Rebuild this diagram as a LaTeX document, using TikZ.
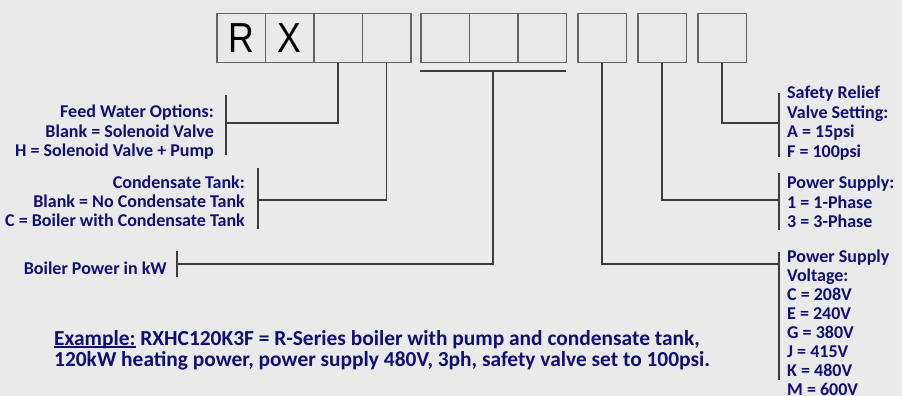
\documentclass[tikz,border=0pt]{standalone}
\usepackage{fontspec}
\setmainfont{Carlito}
\newfontfamily\arialfont{Liberation Sans}
\definecolor{bg}{RGB}{234,234,234}
\definecolor{navytext}{RGB}{14,14,120}
\definecolor{boxgray}{RGB}{100,100,100}
\definecolor{linegray}{RGB}{60,60,60}
\newcommand\exunder[1]{\setbox0\hbox{#1}\rlap{\rule[-2.6pt]{\wd0}{1.3pt}}\box0\relax}
\begin{document}
\begin{tikzpicture}[x=1pt,y=-1pt,
  codebox/.style={draw=boxgray, line width=1.5pt, minimum width=48.5pt, minimum height=49pt, inner sep=0pt, anchor=north west},
  bigletter/.style={font=\arialfont\fontsize{42}{42}\selectfont, text=black},
  lbl/.style={text=navytext, font=\bfseries\fontsize{18}{19.5}\selectfont, inner sep=0pt},
  exlbl/.style={text=navytext, font=\bfseries\fontsize{21.4}{22}\selectfont, inner sep=0pt, anchor=base west},
  conn/.style={draw=linegray, line width=1.3pt},
  bracket/.style={draw=linegray, line width=1.3pt}]
\useasboundingbox (0,0) rectangle (902,396);
\fill[bg] (0,0) rectangle (902,396);

% code boxes
\node[codebox] (b1) at (216,13) {};
\node[codebox] (b2) at (264.5,13) {};
\node[codebox] (b3) at (313,13) {};
\node[codebox] (b4) at (361.5,13) {};
\node[codebox] (b5) at (420,13) {};
\node[codebox] (b6) at (468.5,13) {};
\node[codebox] (b7) at (517,13) {};
\node[codebox] (b8) at (577,13) {};
\node[codebox] (b9) at (637,13) {};
\node[codebox] (b10) at (697,13) {};
\node[bigletter] (lr) at (b1.center) {\scalebox{0.85}[1]{R}};
\node[bigletter] (lx) at (b2.center) {\scalebox{0.85}[1]{X}};

% underline of power group
\coordinate (gl) at (420,71);
\coordinate (gr) at (565.5,71);
\coordinate (gm) at (493,71);
\draw[conn] (gl) -- (gr);

% left labels
\foreach \t [count=\i] in {Feed Water Options:, Blank = Solenoid Valve, H = Solenoid Valve + Pump}
  \node[lbl, anchor=base east] (fw\i) at (214,{117.5+19.5*(\i-1)}) {\t};
\foreach \t [count=\i] in {Condensate Tank:, Blank = No Condensate Tank, C = Boiler with Condensate Tank}
  \node[lbl, anchor=base east] (ct\i) at (245,{188.5+19*(\i-1)}) {\t};
\node[lbl, anchor=base east] (bp) at (167,274.5) {Boiler Power in kW};

% right labels
\foreach \t [count=\i] in {Safety Relief, Valve Setting:, A = 15psi, F = 100psi}
  \node[lbl, anchor=base west] (sr\i) at (787,{98.5+19.5*(\i-1)}) {\t};
\foreach \t [count=\i] in {Power Supply:, 1 = 1-Phase, 3 = 3-Phase}
  \node[lbl, anchor=base west] (ps\i) at (787,{188.5+19.5*(\i-1)}) {\t};
\foreach \t [count=\i] in {Power Supply, Voltage:, C = 208V, E = 240V, G = 380V, J = 415V, K = 480V, M = 600V}
  \node[lbl, anchor=base west] (pv\i) at (787,{262.5+19*(\i-1)}) {\t};

% example
\node[exlbl] (ex1) at (54,345) {\exunder{Example:} RXHC120K3F = R-Series boiler with pump and condensate tank,};
\node[exlbl] (ex2) at (54,366) {120kW heating power, power supply 480V, 3ph, safety valve set to 100psi.};

% brackets
\coordinate (fwt) at (226,95);   \coordinate (fwb) at (226,155);  \coordinate (fwm) at (226,123);
\coordinate (ctt) at (258,168);  \coordinate (ctb) at (258,229);  \coordinate (ctm) at (258,200);
\coordinate (bpt) at (177,251);  \coordinate (bpb) at (177,277);  \coordinate (bpm) at (177,264);
\coordinate (srt) at (779,93);   \coordinate (srb) at (779,157);  \coordinate (srm) at (779,123);
\coordinate (pst) at (779,173);  \coordinate (psb) at (779,230);  \coordinate (psm) at (779,200);
\coordinate (pvt) at (779,252);  \coordinate (pvb) at (779,380);  \coordinate (pvm) at (779,264);
\draw[bracket] (fwt) -- (fwb);
\draw[bracket] (ctt) -- (ctb);
\draw[bracket] (bpt) -- (bpb);
\draw[bracket] (srt) -- (srb);
\draw[bracket] (pst) -- (psb);
\draw[bracket] (pvt) -- (pvb);

% connectors
\draw[conn] (b3.south) |- (fwm);
\draw[conn] (b4.south) |- (ctm);
\draw[conn] (gm) |- (bpm);
\draw[conn] (b10.south) |- (srm);
\draw[conn] (b9.south) |- (psm);
\draw[conn] (b8.south) |- (pvm);
\end{tikzpicture}
\end{document}
